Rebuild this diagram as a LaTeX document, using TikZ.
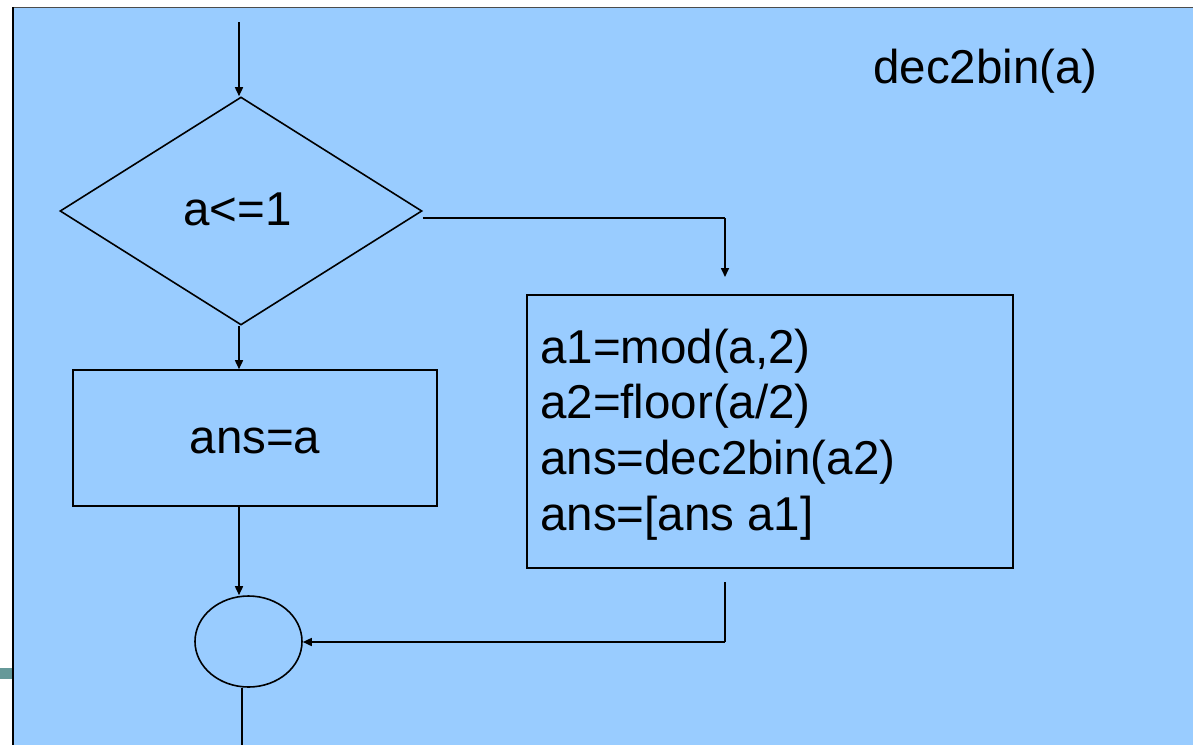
\documentclass[tikz,border=0pt]{standalone}
\usepackage{fontspec}
\setmainfont{Liberation Sans}
\usetikzlibrary{shapes.geometric,arrows.meta,calc}
\definecolor{slidebg}{HTML}{99CCFF}
\definecolor{tabteal}{HTML}{669999}
\tikzset{
  flow/.style={draw=black, line width=1.6pt},
  conn/.style={draw=black, line width=1.6pt, -{Triangle[length=9pt,width=8pt]}},
  plain/.style={draw=black, line width=1.6pt},
  label/.style={font=\fontsize{47.5}{55.7}\selectfont, inner sep=0pt},
}
\begin{document}
\begin{tikzpicture}[x=1pt,y=-1pt]
\useasboundingbox (0,0) rectangle (1193,745);
% slide background and frame
\fill[slidebg] (13,8) rectangle (1193,745);
\draw[gray!60!black, line width=0.8pt] (13,7.5) -- (1193,7.5);
\draw[black, line width=1.6pt] (13,7) -- (13,745);
\fill[tabteal] (0,668) rectangle (12,679);

% title
\node[label, anchor=base] (title) at (985.5,83) {dec2bin(a)};

% decision
\node[flow, shape=diamond, minimum width=362pt, minimum height=228pt, inner sep=0pt] (dia) at (241,211) {};
\node[label, anchor=base] (cond) at (237.5,225) {a<=1};

% base case
\node[flow, rectangle, minimum width=364pt, minimum height=136pt, inner sep=0pt] (base) at (255,438) {};
\node[label, anchor=base] (basetxt) at (255,453) {ans=a};

% recursive case
\node[flow, rectangle, minimum width=486pt, minimum height=273pt, inner sep=0pt] (rec) at (770,431.5) {};
\node[label, anchor=base west] (l1) at (540,363) {a1=mod(a,2)};
\node[label, anchor=base west] (l2) at (540,418.5) {a2=floor(a/2)};
\node[label, anchor=base west] (l3) at (540,474.5) {ans=dec2bin(a2)};
\node[label, anchor=base west] (l4) at (540,530) {ans=[ans a1]};

% join
\node[flow, ellipse, minimum width=107pt, minimum height=91pt, inner sep=0pt] (join) at (248.5,641.5) {};

% connector end points
\coordinate (entry) at (239,22);
\coordinate (exit) at (242,745);
\coordinate (rturn) at (725,218);
\coordinate (rin) at (725,277);
\coordinate (rout) at (725,582);
\coordinate (jturn) at (725,642);

% connectors
\draw[conn] (entry) -- (entry |- dia.north);
\draw[plain] ([yshift=-7pt]dia.east) -- (rturn);
\draw[conn] (rturn) -- (rin);
\draw[conn] (dia.south -| entry) -- (entry |- base.north);
\draw[conn] (entry |- base.south) -- (entry |- join.north);
\draw[plain] (rout) -- (jturn);
\draw[conn] (jturn) -- (join.east |- jturn);
\draw[plain] (exit |- join.south) -- (exit);
\end{tikzpicture}
\end{document}
